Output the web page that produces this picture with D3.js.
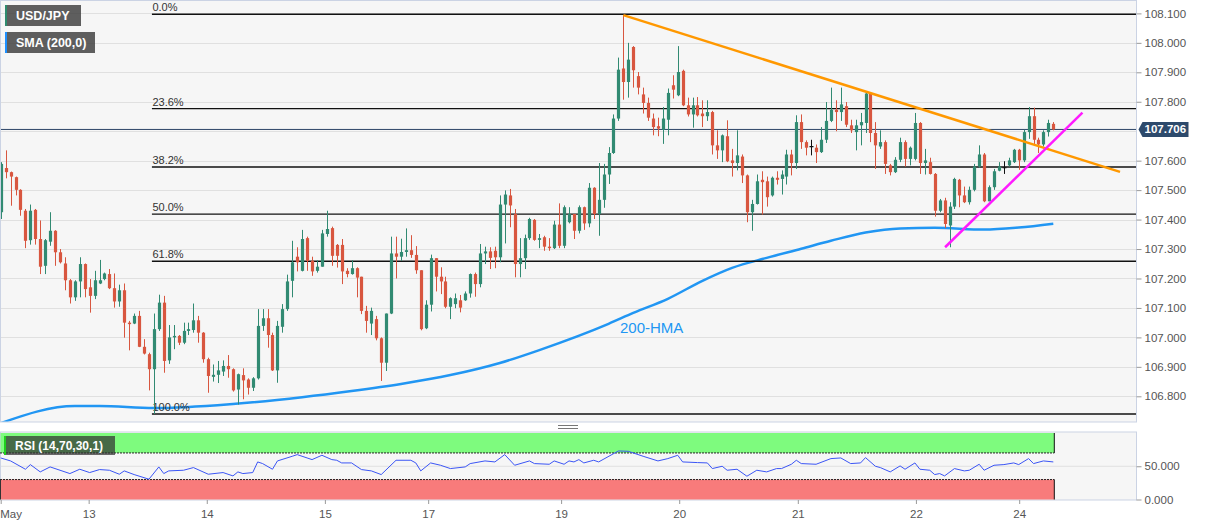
<!DOCTYPE html>
<html><head><meta charset="utf-8">
<script src="https://cdn.jsdelivr.net/npm/d3@7"></script>
<style>html,body{margin:0;padding:0;background:#fff;}svg{display:block;font-family:"Liberation Sans",Arial,sans-serif;}</style>
</head><body><svg id="c" width="1207" height="526"></svg>
<script>
// ---- DATA ----
// hourly candles [open, high, low, close]
const ohlc = [
[107.425,107.595,107.402,107.589],[107.575,107.635,107.54,107.561],[107.561,107.563,107.447,107.546],[107.544,107.546,107.482,107.501],
[107.501,107.503,107.413,107.433],[107.43,107.436,107.303,107.328],[107.33,107.451,107.315,107.43],[107.433,107.436,107.315,107.334],
[107.334,107.397,107.215,107.24],[107.243,107.334,107.215,107.33],[107.325,107.425,107.311,107.362],[107.362,107.364,107.243,107.289],
[107.289,107.30,107.251,107.255],[107.251,107.272,107.16,107.194],[107.194,107.198,107.115,107.136],[107.136,107.194,107.124,107.19],
[107.19,107.272,107.136,107.249],[107.249,107.251,107.136,107.164],[107.17,107.198,107.084,107.141],[107.141,107.226,107.13,107.194],
[107.183,107.263,107.181,107.194],[107.198,107.22,107.194,107.217],[107.215,107.232,107.164,107.167],[107.167,107.217,107.101,107.122],
[107.122,107.179,107.104,107.16],[107.16,107.183,106.999,107.05],[107.05,107.056,106.956,107.045],[107.047,107.081,107.045,107.073],
[107.073,107.09,106.967,106.968],[106.968,106.994,106.942,106.945],[106.943,106.948,106.82,106.892],[106.892,107.081,106.740,107.028],
[107.028,107.145,107.022,107.118],[107.118,107.141,106.88,106.92],[106.922,107.042,106.91,107.0],[107.0,107.042,106.96,107.005],
[107.005,107.008,106.974,106.982],[106.982,107.05,106.977,107.022],[107.022,107.05,107.008,107.028],[107.025,107.115,107.016,107.058],
[107.058,107.073,106.982,107.016],[107.016,107.018,106.914,106.926],[106.926,106.931,106.812,106.869],[106.866,106.908,106.85,106.873],
[106.873,106.92,106.845,106.888],[106.884,106.922,106.869,106.903],[106.903,106.94,106.863,106.892],[106.892,106.895,106.816,106.82],
[106.823,106.877,106.772,106.875],[106.872,106.895,106.79,106.854],[106.857,106.861,106.806,106.829],[106.829,106.865,106.818,106.861],
[106.861,107.096,106.857,107.039],[107.039,107.096,107.022,107.065],[107.065,107.096,106.965,107.008],[107.008,107.016,106.886,106.888],
[106.888,107.056,106.846,107.039],[107.036,107.113,107.016,107.096],[107.096,107.213,107.09,107.19],[107.192,107.328,107.136,107.255],
[107.274,107.306,107.224,107.255],[107.226,107.365,107.224,107.334],[107.337,107.342,107.226,107.26],[107.26,107.274,107.209,107.224],
[107.226,107.262,107.22,107.24],[107.24,107.365,107.24,107.353],[107.351,107.43,107.342,107.368],[107.371,107.376,107.243,107.277],
[107.314,107.317,107.237,107.277],[107.314,107.334,107.181,107.224],[107.226,107.235,107.204,107.215],[107.215,107.262,107.213,107.235],
[107.235,107.238,107.136,107.203],[107.206,107.206,107.079,107.09],[107.09,107.107,107.016,107.056],[107.047,107.101,107.008,107.09],
[107.062,107.073,106.99,106.997],[106.997,107.0,106.852,106.914],[106.914,107.081,106.886,107.081],[107.081,107.342,107.079,107.285],
[107.285,107.342,107.2,107.274],[107.274,107.335,107.26,107.29],[107.29,107.37,107.274,107.296],[107.296,107.347,107.27,107.28],
[107.28,107.31,107.216,107.228],[107.228,107.228,107.024,107.028],[107.031,107.126,107.028,107.111],[107.111,107.281,107.088,107.269],
[107.269,107.269,107.156,107.206],[107.206,107.238,107.147,107.19],[107.19,107.206,107.099,107.104],[107.104,107.136,107.062,107.133],
[107.113,107.149,107.099,107.133],[107.126,107.144,107.085,107.101],[107.126,107.156,107.124,107.149],[107.149,107.217,107.135,107.215],
[107.215,107.22,107.138,107.181],[107.181,107.317,107.17,107.285],[107.285,107.308,107.249,107.292],[107.292,107.306,107.232,107.27],
[107.294,107.308,107.235,107.272],[107.272,107.482,107.255,107.451],[107.451,107.499,107.319,107.485],[107.482,107.504,107.374,107.448],
[107.419,107.436,107.204,107.249],[107.249,107.337,107.204,107.269],[107.269,107.349,107.232,107.337],[107.337,107.406,107.331,107.402],
[107.399,107.402,107.328,107.331],[107.331,107.351,107.303,107.337],[107.34,107.345,107.294,107.308],[107.308,107.337,107.294,107.303],
[107.303,107.396,107.3,107.383],[107.383,107.455,107.303,107.311],[107.311,107.448,107.303,107.442],[107.391,107.442,107.387,107.419],
[107.419,107.419,107.334,107.362],[107.362,107.448,107.353,107.442],[107.442,107.444,107.365,107.387],[107.387,107.524,107.374,107.508],
[107.508,107.51,107.402,107.419],[107.419,107.592,107.345,107.467],[107.467,107.589,107.44,107.553],[107.553,107.646,107.521,107.626],
[107.626,107.757,107.623,107.743],[107.743,107.95,107.735,107.909],[107.913,108.094,107.807,107.867],[107.867,108.0,107.814,107.943],
[107.986,107.989,107.848,107.907],[107.887,107.901,107.825,107.848],[107.825,107.848,107.76,107.796],[107.796,107.814,107.735,107.746],
[107.743,107.76,107.686,107.714],[107.717,107.746,107.683,107.709],[107.705,107.782,107.657,107.743],[107.739,107.845,107.686,107.83],
[107.856,107.89,107.811,107.841],[107.822,107.989,107.819,107.901],[107.905,107.909,107.785,107.788],[107.788,107.814,107.75,107.757],
[107.757,107.814,107.712,107.788],[107.788,107.816,107.75,107.754],[107.76,107.805,107.714,107.751],[107.751,107.805,107.735,107.765],
[107.765,107.769,107.621,107.652],[107.652,107.703,107.606,107.635],[107.635,107.689,107.595,107.686],[107.683,107.737,107.595,107.598],
[107.601,107.64,107.546,107.592],[107.592,107.703,107.567,107.618],[107.614,107.621,107.524,107.55],[107.55,107.553,107.391,107.425],
[107.425,107.467,107.362,107.453],[107.453,107.553,107.451,107.53],[107.535,107.564,107.417,107.527],[107.53,107.546,107.444,107.476],
[107.482,107.546,107.478,107.542],[107.542,107.564,107.519,107.535],[107.538,107.567,107.485,107.553],[107.546,107.637,107.519,107.621],
[107.621,107.637,107.55,107.592],[107.592,107.754,107.572,107.731],[107.731,107.757,107.64,107.663],[107.663,107.669,107.618,107.644],
[107.648,107.671,107.618,107.648],[107.644,107.655,107.592,107.629],[107.629,107.714,107.626,107.671],[107.671,107.799,107.66,107.735],
[107.735,107.848,107.731,107.773],[107.773,107.805,107.7,107.765],[107.765,107.848,107.735,107.791],[107.785,107.799,107.714,107.722],
[107.72,107.739,107.694,107.703],[107.697,107.739,107.635,107.72],[107.72,107.762,107.652,107.731],[107.728,107.833,107.694,107.828],
[107.828,107.833,107.663,107.694],[107.694,107.731,107.572,107.652],[107.648,107.703,107.64,107.663],[107.663,107.669,107.555,107.589],
[107.584,107.589,107.55,107.561],[107.561,107.612,107.558,107.603],[107.603,107.678,107.595,107.663],[107.663,107.669,107.58,107.606],
[107.606,107.648,107.584,107.644],[107.606,107.762,107.601,107.728],[107.728,107.731,107.555,107.592],[107.592,107.64,107.553,107.601],
[107.595,107.61,107.553,107.555],[107.555,107.558,107.41,107.43],[107.43,107.47,107.425,107.465],[107.465,107.474,107.371,107.385],
[107.38,107.459,107.306,107.444],[107.444,107.542,107.436,107.538],[107.535,107.538,107.442,107.482],[107.482,107.512,107.456,107.459],
[107.459,107.512,107.451,107.501],[107.501,107.589,107.496,107.58],[107.58,107.652,107.576,107.621],[107.621,107.626,107.459,107.462],
[107.462,107.516,107.462,107.51],[107.51,107.572,107.501,107.564],[107.566,107.595,107.564,107.58],[107.576,107.598,107.555,107.576],
[107.584,107.61,107.58,107.601],[107.595,107.64,107.592,107.637],[107.637,107.64,107.569,107.601],[107.601,107.705,107.595,107.697],
[107.697,107.782,107.674,107.751],[107.751,107.78,107.652,107.671],[107.671,107.678,107.626,107.655],[107.655,107.703,107.648,107.697],
[107.697,107.739,107.682,107.728],[107.725,107.731,107.703,107.706]
];
// 200-period moving average, read at candle indices
const smaIdx = [0,15,20,31,47,61,71,81,91,101,109,123,128,135,142,148,155,162,168,175,182,189,199,206,213];
const smaVal = [106.709,106.767,106.767,106.760,106.774,106.797,106.818,106.842,106.872,106.913,106.957,107.046,107.083,107.131,107.192,107.236,107.270,107.301,107.328,107.356,107.370,107.372,107.366,107.373,107.386];
// RSI(14) read at candle indices
const rsiIdx = [0,2,5,6,8,10,14,16,18,20,22,24,25,27,30,32,33,34,37,39,42,45,47,48,49,51,52,53,55,56,59,60,62,63,65,67,68,69,71,73,75,77,80,83,84,85,87,89,91,94,95,98,100,102,104,107,108,111,112,114,115,116,117,118,120,121,125,127,130,133,135,137,138,141,143,144,146,147,149,151,153,155,157,158,160,161,162,165,168,170,172,174,175,177,178,180,182,183,185,186,188,189,190,191,193,195,196,198,199,201,203,205,206,208,209,211,213];
const rsiVal = [62.5,58,45.5,52.5,41.5,49,39,45.5,40.5,45,44,38,43,37.5,30.5,49,39,43,44,48,38,40.5,35.5,41.5,39,40.5,56.5,54,45.5,58,65,67.5,62.5,60,66.5,60,59,55,55,45,43,37.5,59,59,55,43,55,51.5,46.5,49,54,58,56.5,67.5,51.5,58,54,53,58,53,58,56.5,60,55,59,56.5,73,72.5,65,58,61.5,66.5,56.5,55.5,55,46.5,50,44,45.5,35,44,41.5,46.5,46.5,53,59,54,53,61.5,62.5,54,55,63,50,48,41.5,50.5,45.5,55,45.5,44,37.5,39,35.5,46.5,43,44,53,44,51.5,52.5,55,52.5,61.5,54,58,56.5];
const priceTicks = [108.1,108.0,107.9,107.8,107.7,107.6,107.5,107.4,107.3,107.2,107.1,107.0,106.9,106.8];
const priceTickLabels = ["108.100","108.000","107.900","107.800","","107.600","107.500","107.400","107.300","107.200","107.100","107.000","106.900","106.800"];
const rsiTicks = [50, 0];
const rsiTickLabels = ["50.000","0.000"];
const dateTickIdx = [0,17.8,41.7,65.6,86.5,113.4,137.3,161.3,185.2,206.1];
const dateTickLabels = ["May","13","14","15","17","19","20","21","22","24"];
const fibRatios = [0,0.236,0.382,0.5,0.618,1];
const fibLabels = ["0.0%","23.6%","38.2%","50.0%","61.8%","100.0%"];
const fibHigh = 108.097, fibLow = 106.740, fibStartIdx = 30.6;
const lastPrice = 107.706;
const trendIdx = [126,226.5], trendVal = [108.094,107.562];
const supportIdx = [191.1,218.9], supportVal = [107.306,107.763];

// ---- LAYOUT ----
const W = 1207, H = 526;
const plotR = 1136.5;
const mainTop = 0.5, mainBot = 422;
const rsiTop = 432, rsiBot = 500;
const svg = d3.select('#c');
const x = d3.scaleLinear().domain([0, ohlc.length-1]).range([0.7, 1053.3]);
const y = d3.scaleLinear().domain([106.8, 108.1]).range([396.3, 13.4]);
const yr = d3.scaleLinear().domain([0, 100]).range([499.5, 433]);
const GREEN = '#318a72', RED = '#d8563f';

svg.append('rect').attr('width',W).attr('height',H).attr('fill','#fff');

// main panel
svg.append('rect').attr('x',0.5).attr('y',mainTop).attr('width',plotR-0.5).attr('height',mainBot-mainTop)
  .attr('fill','#f6f6f6').attr('stroke','#cbd3e4');
const defs = svg.append('defs');
defs.append('clipPath').attr('id','mclip').append('rect').attr('x',1).attr('y',1).attr('width',plotR-1.5).attr('height',mainBot-1.5);
const main = svg.append('g').attr('clip-path','url(#mclip)');

main.selectAll('.g').data(priceTicks).join('line')
  .attr('x1',1).attr('x2',plotR).attr('y1',d=>Math.round(y(d))+0.5).attr('y2',d=>Math.round(y(d))+0.5)
  .attr('stroke','#e0e0e0').attr('stroke-width',1);

// SMA
main.append('path').datum(smaIdx.map((d,i)=>[d,smaVal[i]]))
  .attr('d', d3.line().x(d=>x(d[0])).y(d=>y(d[1])).curve(d3.curveMonotoneX))
  .attr('fill','none').attr('stroke','#2196f3').attr('stroke-width',2.5);

// fib
const fibG = main.append('g');
fibRatios.forEach((r,i)=>{
  const p = fibHigh - (fibHigh-fibLow)*r;
  const yy = y(p);
  fibG.append('line').attr('x1',x(fibStartIdx)).attr('x2',plotR).attr('y1',yy).attr('y2',yy)
    .attr('stroke','#111').attr('stroke-width',1.4);
  fibG.append('text').attr('x',x(fibStartIdx)+0.5).attr('y',yy-3).text(fibLabels[i])
    .attr('font-size',11).attr('fill','#333');
});

// last price line
main.append('line').attr('x1',0).attr('x2',plotR).attr('y1',y(lastPrice)).attr('y2',y(lastPrice))
  .attr('stroke','#2c4466').attr('stroke-width',1);

// candles
const cg = main.append('g');
ohlc.forEach((d,i)=>{
  const [o,h,l,c] = d;
  const col = c>o ? GREEN : (c<o ? RED : '#111');
  const cx = Math.round(x(i))+0.5;
  cg.append('line').attr('x1',cx).attr('x2',cx).attr('y1',y(h)).attr('y2',y(l)).attr('stroke',col).attr('stroke-width',1);
  const top = y(Math.max(o,c)), bot = y(Math.min(o,c));
  if (c===o) {
    cg.append('line').attr('x1',cx-2).attr('x2',cx+2).attr('y1',top).attr('y2',top).attr('stroke',col).attr('stroke-width',1.2);
  } else {
    cg.append('rect').attr('x',cx-1.6).attr('y',top).attr('width',3.2).attr('height',Math.max(1,bot-top)).attr('fill',col);
  }
});

// trend lines
main.append('line').attr('x1',x(trendIdx[0])).attr('y1',y(trendVal[0])).attr('x2',x(trendIdx[1])).attr('y2',y(trendVal[1]))
  .attr('stroke','#ff9800').attr('stroke-width',2.5);
main.append('line').attr('x1',x(supportIdx[0])).attr('y1',y(supportVal[0])).attr('x2',x(supportIdx[1])).attr('y2',y(supportVal[1]))
  .attr('stroke','#ff1aff').attr('stroke-width',2.5);

main.append('text').attr('x',620).attr('y',333).text('200-HMA').attr('font-size',15).attr('fill','#2196f3');

// right axis
const ax = svg.append('g').attr('transform',`translate(${plotR},0)`)
  .call(d3.axisRight(y).tickValues(priceTicks).tickSize(5).tickPadding(3).tickFormat((d,i)=>priceTickLabels[i]));
ax.select('.domain').remove();
ax.selectAll('line').attr('stroke','#999');
ax.selectAll('text').attr('fill','#555').attr('font-size',11.5).attr('font-family','"Liberation Sans",Arial,sans-serif');
ax.selectAll('.tick').filter((d,i)=>priceTickLabels[i]==='').remove();

// price label
const ly = y(lastPrice);
svg.append('path').attr('d',`M${plotR+2},${ly} L${plotR+6},${ly-7.5} L${plotR+52},${ly-7.5} L${plotR+52},${ly+7.5} L${plotR+6},${ly+7.5} Z`)
  .attr('fill','#2d4a6c');
svg.append('text').attr('x',plotR+8).attr('y',ly+4).text(lastPrice.toFixed(3)).attr('fill','#fff')
  .attr('font-size',11.5).attr('font-weight','bold');

// legends
function legend(xx,yy,w,h,bar,label){
  svg.append('rect').attr('x',xx).attr('y',yy).attr('width',w).attr('height',h).attr('fill','rgba(60,60,60,0.82)');
  svg.append('rect').attr('x',xx).attr('y',yy).attr('width',2).attr('height',h).attr('fill',bar);
  svg.append('text').attr('x',xx+11).attr('y',yy+h/2+4.5).text(label).attr('fill','#fff').attr('font-size',12.5).attr('font-weight','bold');
}
legend(5,5,76,21,'#2e8b6e','USD/JPY');
legend(5,32,90,21,'#1e90ff','SMA (200,0)');

// separator handle
[425.5,428.5].forEach(v=>svg.append('line').attr('x1',558).attr('x2',578).attr('y1',v).attr('y2',v).attr('stroke','#777').attr('stroke-width',1));

// RSI panel
svg.append('rect').attr('x',0.5).attr('y',rsiTop).attr('width',plotR-0.5).attr('height',rsiBot-rsiTop)
  .attr('fill','#f6f6f6').attr('stroke','#cbd3e4');
svg.append('line').attr('x1',1).attr('x2',plotR).attr('y1',yr(50)).attr('y2',yr(50)).attr('stroke','#e0e0e0');
const bandR = x(ohlc.length-1)+1;
svg.append('rect').attr('x',0.5).attr('y',yr(100)).attr('width',bandR-0.5).attr('height',yr(70)-yr(100)).attr('fill','#7efb7e');
svg.append('rect').attr('x',0.5).attr('y',yr(30)).attr('width',bandR-0.5).attr('height',yr(0)-yr(30)).attr('fill','#f87b7b');
[70,30].forEach(v=>svg.append('line').attr('x1',0).attr('x2',bandR).attr('y1',yr(v)).attr('y2',yr(v))
  .attr('stroke','#222').attr('stroke-width',1).attr('stroke-dasharray','2,1'));
svg.append('line').attr('x1',bandR).attr('x2',bandR).attr('y1',yr(100)).attr('y2',yr(70)).attr('stroke','#111');
svg.append('line').attr('x1',bandR).attr('x2',bandR).attr('y1',yr(30)).attr('y2',yr(0)).attr('stroke','#111');
svg.append('line').attr('x1',0.5).attr('x2',0.5).attr('y1',yr(30)).attr('y2',yr(0)).attr('stroke','#333');

svg.append('path').datum(rsiIdx.map((d,i)=>[d,rsiVal[i]]))
  .attr('d', d3.line().x(d=>x(d[0])).y(d=>yr(d[1])))
  .attr('fill','none').attr('stroke','#3b55f5').attr('stroke-width',1);

// RSI legend
svg.append('rect').attr('x',4).attr('y',436).attr('width',111).attr('height',19).attr('fill','rgba(50,50,50,0.72)');
svg.append('rect').attr('x',4).attr('y',436).attr('width',2).attr('height',19).attr('fill','#1fd01f');
svg.append('text').attr('x',15).attr('y',450).text('RSI (14,70,30,1)').attr('fill','#fff').attr('font-size',12).attr('font-weight','bold');

const rax = svg.append('g').attr('transform',`translate(${plotR},0)`)
  .call(d3.axisRight(yr).tickValues(rsiTicks).tickSize(5).tickPadding(3).tickFormat((d,i)=>rsiTickLabels[i]));
rax.select('.domain').remove();
rax.selectAll('line').attr('stroke','#999');
rax.selectAll('text').attr('fill','#555').attr('font-size',11.5).attr('font-family','"Liberation Sans",Arial,sans-serif');

// date axis
const dax = svg.append('g').attr('transform',`translate(0,${rsiBot})`)
  .call(d3.axisBottom(x).tickValues(dateTickIdx).tickSize(4).tickPadding(6).tickFormat((d,i)=>dateTickLabels[i]));
dax.select('.domain').remove();
dax.selectAll('line').attr('stroke','#999');
dax.selectAll('text').attr('fill','#555').attr('font-size',11.5).attr('font-family','"Liberation Sans",Arial,sans-serif');
dax.selectAll('text').filter((d,i)=>i===0).attr('text-anchor','start').attr('x',-1);
</script></body></html>
